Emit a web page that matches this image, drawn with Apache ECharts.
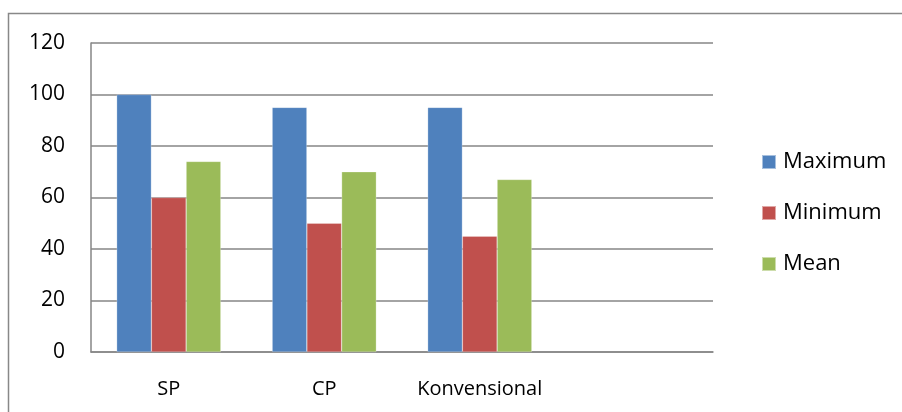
<!DOCTYPE html>
<html>
<head>
<meta charset="utf-8">
<script src="https://cdn.jsdelivr.net/npm/echarts@6/dist/echarts.min.js"></script>
<style>
  html, body { margin: 0; padding: 0; background: #fff; }
  #chart { width: 902px; height: 412px; }
</style>
</head>
<body>
<div id="chart"></div>
<script>
// Categories (the fourth slot is left empty, as in the original workbook range)
const categories = ['SP', 'CP', 'Konvensional', ''];
const seriesNames = ['Maximum', 'Minimum', 'Mean'];
const maximumValues = [100, 95, 95, null];
const minimumValues = [60, 50, 45, null];
const meanValues = [74, 70, 67, null];
const yTicks = [0, 20, 40, 60, 80, 100, 120];

const colors = ['#4F81BD', '#C0504D', '#9BBB59'];
const font = 'Open Sans, Liberation Sans, sans-serif';

const chart = echarts.init(document.getElementById('chart'), null, { renderer: 'canvas' });

const values = [maximumValues, minimumValues, meanValues];

chart.setOption({
  animation: false,
  color: colors,
  graphic: [{
    type: 'rect',
    shape: { x: 8.5, y: 13.5, width: 1000, height: 1000 },
    style: { fill: 'none', stroke: '#888888', lineWidth: 1.5 },
    silent: true
  }],
  grid: { left: 91, right: 189, top: 43, bottom: 60, containLabel: false },
  legend: {
    orient: 'vertical',
    left: 756,
    top: 146,
    itemWidth: 14,
    itemHeight: 14,
    itemGap: 29,
    icon: 'rect',
    data: seriesNames,
    textStyle: { fontFamily: font, fontSize: 22, lineHeight: 22, color: '#000', padding: [0, 0, 0, 2] }
  },
  xAxis: {
    type: 'category',
    data: categories,
    axisLine: { lineStyle: { color: '#868686', width: 1.5 } },
    axisTick: { show: false },
    axisLabel: { color: '#000', fontFamily: font, fontSize: 20, margin: 27, interval: 0 },
    splitLine: { show: false }
  },
  yAxis: {
    type: 'value',
    min: yTicks[0],
    max: yTicks[yTicks.length - 1],
    interval: yTicks[1] - yTicks[0],
    axisLine: { show: true, lineStyle: { color: '#868686', width: 1.5 } },
    axisTick: { show: false },
    axisLabel: { color: '#000', fontFamily: font, fontSize: 21, margin: 26 },
    splitLine: { lineStyle: { color: '#868686', width: 1.5 } }
  },
  series: seriesNames.map((name, i) => ({
    name: name,
    type: 'bar',
    data: values[i],
    barGap: '0%',
    barCategoryGap: '33%',
    itemStyle: { color: colors[i], borderColor: 'rgba(255,255,255,0.5)', borderWidth: 0.5 }
  }))
});
</script>
</body>
</html>
